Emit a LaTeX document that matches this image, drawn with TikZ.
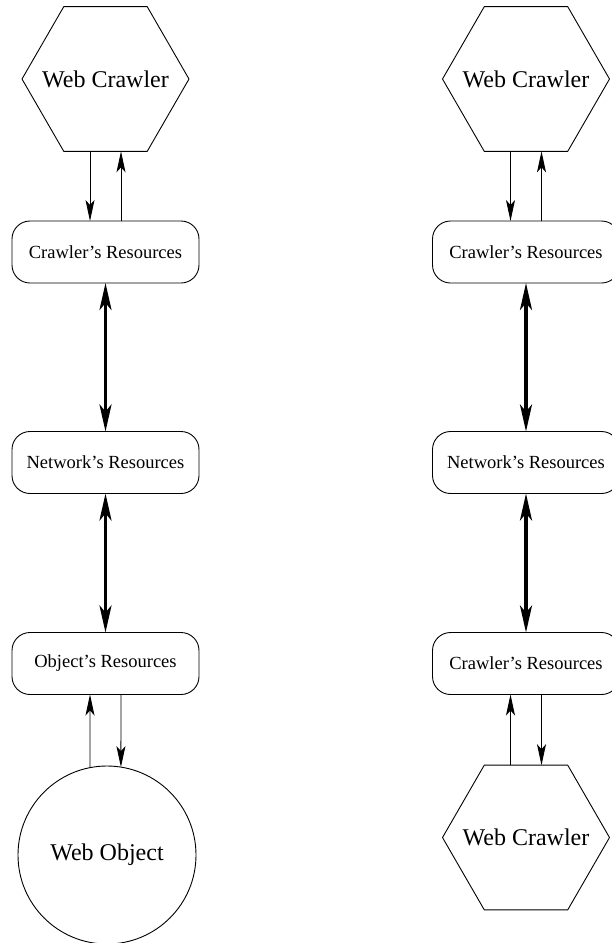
\documentclass[tikz,border=0pt]{standalone}
\usepackage{fontspec}
\setmainfont{Liberation Serif}
\usetikzlibrary{shapes.geometric,arrows.meta}
\newcommand{\hexlabel}[1]{\makebox[0pt]{#1}}
\begin{document}
\begin{tikzpicture}[x=1pt,y=-1pt,line join=round,
	hexa/.style={draw,regular polygon,regular polygon sides=6,minimum size=167pt,inner sep=0pt,outer sep=0pt,line width=.9pt,font=\fontsize{24}{28}\selectfont},
	objcirc/.style={draw,circle,minimum size=178pt,inner sep=0pt,outer sep=0pt,line width=.9pt,font=\fontsize{24}{28}\selectfont},
	resbox/.style={draw,rectangle,rounded corners=18pt,minimum width=187pt,minimum height=62pt,inner sep=0pt,outer sep=0pt,line width=.9pt,font=\fontsize{18.5}{22}\selectfont},
	thinarr/.style={line width=.9pt,-{Stealth[length=21pt,width=9pt,inset=5pt]}},
	thickarr/.style={line width=3.5pt,{Stealth[length=27pt,width=12pt,inset=7pt]}-{Stealth[length=27pt,width=12pt,inset=7pt]}}]
	\def\xl{105.5} \def\xr{526} % columns
	\useasboundingbox (0,0) rectangle (612,943);
	% left column
	\node[hexa] (crawlerA) at (\xl,79) {\hexlabel{Web Crawler}};
	\node[resbox] (resA) at (\xl,252) {Crawler's Resources};
	\node[resbox] (netA) at (\xl,462.5) {Network's Resources};
	\node[resbox] (objres) at (\xl,663.5) {Object's Resources};
	\node[objcirc] (webobj) at (107,855) {Web Object};
	\draw[thinarr] ([xshift=-15.5pt]crawlerA.south) -- ([xshift=-15.5pt]resA.north);
	\draw[thinarr] ([xshift=15.5pt]resA.north) -- ([xshift=15.5pt]crawlerA.south);
	\draw[thickarr] (resA.south) -- (netA.north);
	\draw[thickarr] (netA.south) -- (objres.north);
	\draw[thinarr] (webobj.101) -- ([xshift=-15.5pt]objres.south);
	\draw[thinarr] ([xshift=15.5pt]objres.south) -- (webobj.81);
	% right column
	\node[hexa] (crawlerB) at (\xr,79) {\hexlabel{Web Crawler}};
	\node[resbox] (resB) at (\xr,252) {Crawler's Resources};
	\node[resbox] (netB) at (\xr,462.5) {Network's Resources};
	\node[resbox] (resC) at (\xr,663.5) {Crawler's Resources};
	\node[hexa] (crawlerC) at (\xr,837.5) {\hexlabel{Web Crawler}};
	\draw[thinarr] ([xshift=-15.5pt]crawlerB.south) -- ([xshift=-15.5pt]resB.north);
	\draw[thinarr] ([xshift=15.5pt]resB.north) -- ([xshift=15.5pt]crawlerB.south);
	\draw[thickarr] (resB.south) -- (netB.north);
	\draw[thickarr] (netB.south) -- (resC.north);
	\draw[thinarr] ([xshift=-15.5pt]crawlerC.north) -- ([xshift=-15.5pt]resC.south);
	\draw[thinarr] ([xshift=15.5pt]resC.south) -- ([xshift=15.5pt]crawlerC.north);
\end{tikzpicture}
\end{document}
